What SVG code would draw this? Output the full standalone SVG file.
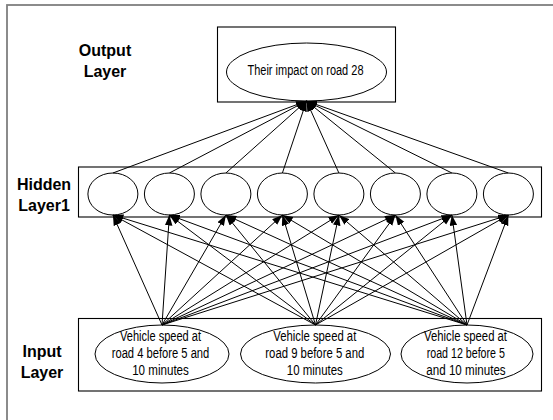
<svg xmlns="http://www.w3.org/2000/svg" width="553" height="420" viewBox="0 0 553 420">
  <style>
    .frame { fill: none; stroke: #7f7f7f; stroke-width: 1.8; }
    .box { fill: #ffffff; stroke: #000000; stroke-width: 1.1; }
    .node { fill: #ffffff; stroke: #000000; stroke-width: 1; }
    .label { font-family: "Liberation Sans", Arial, sans-serif; font-weight: bold; font-size: 16px; fill: #000000; text-anchor: middle; }
    .txt { font-family: "Liberation Sans Narrow", "Liberation Sans", Arial, sans-serif; font-size: 14px; fill: #000000; text-anchor: middle; }
    .edge { stroke: #000000; stroke-width: 1; fill: none; marker-end: url(#arrow); }
  </style>
  <defs>
    <marker id="arrow" markerUnits="userSpaceOnUse" markerWidth="11" markerHeight="8" refX="10.5" refY="3.75" orient="auto">
      <path d="M0,0 L10.5,3.75 L0,7.5 z" fill="#000000"/>
    </marker>
  </defs>

  <rect width="553" height="420" fill="#ffffff"/>
  <!-- outer frame (right and bottom run past the canvas) -->
  <rect class="frame" x="7" y="5" width="560" height="430"/>

  <!-- layer labels -->
  <g id="label-output">
    <text class="label" x="105" y="56">Output</text>
    <text class="label" x="105" y="77">Layer</text>
  </g>
  <g id="label-hidden">
    <text class="label" x="44" y="190">Hidden</text>
    <text class="label" x="44" y="211">Layer1</text>
  </g>
  <g id="label-input">
    <text class="label" x="42" y="357">Input</text>
    <text class="label" x="42" y="378">Layer</text>
  </g>

  <!-- layer containers -->
  <rect class="box" x="217.5" y="27" width="178" height="75"/>
  <rect class="box" x="78.5" y="167" width="463" height="50"/>
  <rect class="box" x="78.5" y="318.5" width="463" height="72.5"/>

  <!-- output node -->
  <g id="out">
    <ellipse class="node" cx="306.5" cy="72" rx="80" ry="29"/>
    <text class="txt" x="305.5" y="75" textLength="116" lengthAdjust="spacingAndGlyphs">Their impact on road 28</text>
  </g>

  <!-- hidden nodes -->
  <g id="h1"><ellipse class="node" cx="112.9" cy="194" rx="25" ry="21"/></g>
  <g id="h2"><ellipse class="node" cx="169.4" cy="194" rx="25" ry="21"/></g>
  <g id="h3"><ellipse class="node" cx="225.9" cy="194" rx="25" ry="21"/></g>
  <g id="h4"><ellipse class="node" cx="282.4" cy="194" rx="25" ry="21"/></g>
  <g id="h5"><ellipse class="node" cx="338.9" cy="194" rx="25" ry="21"/></g>
  <g id="h6"><ellipse class="node" cx="395.4" cy="194" rx="25" ry="21"/></g>
  <g id="h7"><ellipse class="node" cx="451.9" cy="194" rx="25" ry="21"/></g>
  <g id="h8"><ellipse class="node" cx="508.4" cy="194" rx="25" ry="21"/></g>

  <!-- input nodes -->
  <g id="in1">
    <ellipse class="node" cx="162" cy="354" rx="67" ry="29"/>
    <text class="txt" x="160.5" y="341" textLength="81" lengthAdjust="spacingAndGlyphs">Vehicle speed at</text>
    <text class="txt" x="160.5" y="358" textLength="97.6" lengthAdjust="spacingAndGlyphs">road 4 before 5 and</text>
    <text class="txt" x="160.5" y="375" textLength="56.7" lengthAdjust="spacingAndGlyphs">10 minutes</text>
  </g>
  <g id="in2">
    <ellipse class="node" cx="315.5" cy="354" rx="75" ry="29"/>
    <text class="txt" x="314.8" y="341" textLength="83" lengthAdjust="spacingAndGlyphs">Vehicle speed at</text>
    <text class="txt" x="314.8" y="358" textLength="99" lengthAdjust="spacingAndGlyphs">road 9 before 5 and</text>
    <text class="txt" x="314.8" y="375" textLength="56" lengthAdjust="spacingAndGlyphs">10 minutes</text>
  </g>
  <g id="in3">
    <ellipse class="node" cx="467" cy="354" rx="66" ry="29"/>
    <text class="txt" x="465.5" y="341" textLength="83" lengthAdjust="spacingAndGlyphs">Vehicle speed at</text>
    <text class="txt" x="465.8" y="358" textLength="78.3" lengthAdjust="spacingAndGlyphs">road 12 before 5</text>
    <text class="txt" x="466" y="375" textLength="79.3" lengthAdjust="spacingAndGlyphs">and 10 minutes</text>
  </g>

  <!-- connectors -->
  <g id="connectors">
    <!-- hidden to output -->
    <line class="edge" x1="112.9" y1="173" x2="306.5" y2="101"/>
    <line class="edge" x1="169.4" y1="173" x2="306.5" y2="101"/>
    <line class="edge" x1="225.9" y1="173" x2="306.5" y2="101"/>
    <line class="edge" x1="282.4" y1="173" x2="306.5" y2="101"/>
    <line class="edge" x1="338.9" y1="173" x2="306.5" y2="101"/>
    <line class="edge" x1="395.4" y1="173" x2="306.5" y2="101"/>
    <line class="edge" x1="451.9" y1="173" x2="306.5" y2="101"/>
    <line class="edge" x1="508.4" y1="173" x2="306.5" y2="101"/>
    <!-- input 1 to hidden -->
    <line class="edge" x1="162" y1="325" x2="112.9" y2="215"/>
    <line class="edge" x1="162" y1="325" x2="169.4" y2="215"/>
    <line class="edge" x1="162" y1="325" x2="225.9" y2="215"/>
    <line class="edge" x1="162" y1="325" x2="282.4" y2="215"/>
    <line class="edge" x1="162" y1="325" x2="338.9" y2="215"/>
    <line class="edge" x1="162" y1="325" x2="395.4" y2="215"/>
    <line class="edge" x1="162" y1="325" x2="451.9" y2="215"/>
    <line class="edge" x1="162" y1="325" x2="508.4" y2="215"/>
    <!-- input 2 to hidden -->
    <line class="edge" x1="315.5" y1="325" x2="112.9" y2="215"/>
    <line class="edge" x1="315.5" y1="325" x2="169.4" y2="215"/>
    <line class="edge" x1="315.5" y1="325" x2="225.9" y2="215"/>
    <line class="edge" x1="315.5" y1="325" x2="282.4" y2="215"/>
    <line class="edge" x1="315.5" y1="325" x2="338.9" y2="215"/>
    <line class="edge" x1="315.5" y1="325" x2="395.4" y2="215"/>
    <line class="edge" x1="315.5" y1="325" x2="451.9" y2="215"/>
    <line class="edge" x1="315.5" y1="325" x2="508.4" y2="215"/>
    <!-- input 3 to hidden -->
    <line class="edge" x1="467" y1="325" x2="112.9" y2="215"/>
    <line class="edge" x1="467" y1="325" x2="169.4" y2="215"/>
    <line class="edge" x1="467" y1="325" x2="225.9" y2="215"/>
    <line class="edge" x1="467" y1="325" x2="282.4" y2="215"/>
    <line class="edge" x1="467" y1="325" x2="338.9" y2="215"/>
    <line class="edge" x1="467" y1="325" x2="395.4" y2="215"/>
    <line class="edge" x1="467" y1="325" x2="451.9" y2="215"/>
    <line class="edge" x1="467" y1="325" x2="508.4" y2="215"/>
  </g>
</svg>
